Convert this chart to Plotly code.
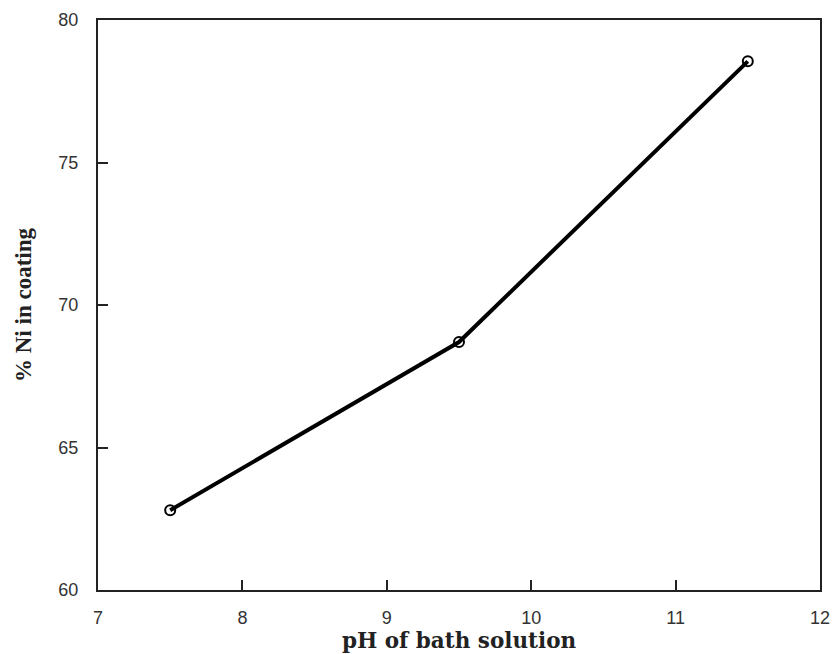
import plotly.graph_objects as go

ph = [7.5, 9.5, 11.5]
ni_pct = [62.8, 68.7, 78.55]
x_ticks = [7, 8, 9, 10, 11, 12]
y_ticks = [60, 65, 70, 75, 80]

fig = go.Figure()
fig.add_trace(go.Scatter(
    x=ph, y=ni_pct, mode="lines+markers",
    line=dict(color="black", width=4),
    marker=dict(symbol="circle-open", size=10, color="black", line=dict(width=2)),
    showlegend=False, cliponaxis=False,
))

axis_common = dict(
    showline=True, linecolor="#222", linewidth=2, mirror=True,
    ticks="inside", ticklen=10, tickwidth=1.5, tickcolor="#222",
    showgrid=False, zeroline=False, automargin=False,
    tickfont=dict(family="Liberation Sans, Arial", size=18, color="#333"),
)

fig.update_xaxes(range=[7, 12], tickvals=x_ticks, ticklabelstandoff=10,
                 title_text="<b>pH of bath solution</b>", title_standoff=6,
                 title_font=dict(family="DejaVu Serif", size=21.5, color="#222"),
                 **axis_common)
fig.update_yaxes(range=[60, 80], tickvals=y_ticks, ticklabelstandoff=14,
                 title_text="<b>% Ni in coating</b>", title_standoff=20,
                 title_font=dict(family="Liberation Serif, Times New Roman", size=23, color="#222"),
                 **axis_common)

fig.update_layout(
    width=833, height=654,
    margin=dict(l=98, r=13, t=20, b=64),
    plot_bgcolor="white", paper_bgcolor="white",
)

fig.write_html(
    "out.html",
    config={"displayModeBar": False},
    post_script="document.body.style.margin='0';document.body.style.overflow='hidden';",
)
